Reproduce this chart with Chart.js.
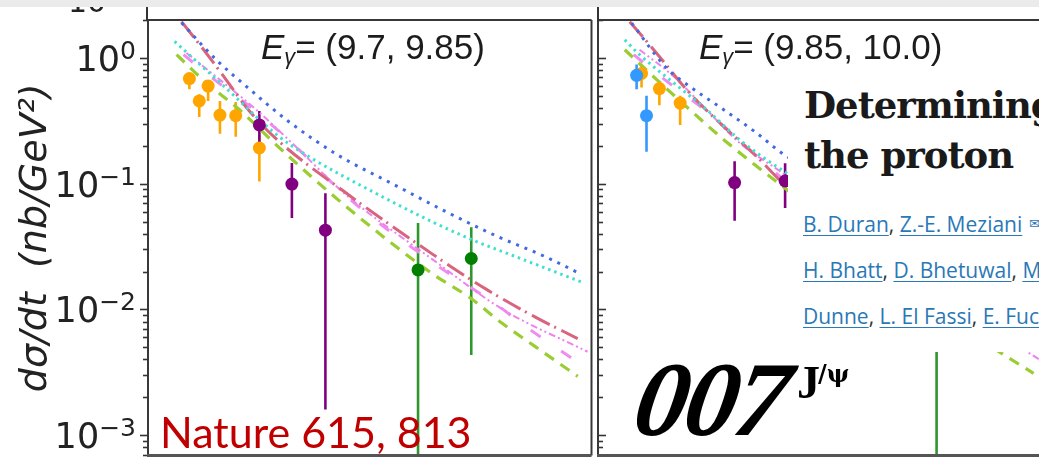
<!DOCTYPE html>
<html>
<head>
<meta charset="utf-8">
<script src="https://cdn.jsdelivr.net/npm/chart.js@4.4.1/dist/chart.umd.min.js"></script>
<style>
  html, body { margin: 0; padding: 0; background: #fff; }
  body { position: relative; width: 1039px; height: 462px; overflow: hidden; }
  canvas { position: absolute; top: 0; }
  #cL { left: 0; }
  #cR { left: 590px; }
  .abs { position: absolute; white-space: nowrap; }
  #band { left: 0; top: 0; width: 1039px; height: 7px; background: #ebebeb; z-index: 5; }
  #cut10 { left: 68px; top: -13px; font: 30px "DejaVu Sans"; line-height: 30px; color: #222; z-index: 4; }
  .vline { position: absolute; top: 7px; width: 2px; height: 14px; background: #333; }
  .etitle { top: 29px; font: 35px "Liberation Sans"; line-height: 35px; color: #1c1c1c; z-index: 4; }
  .etitle i { font-style: italic; }
  .etitle sub { font-size: 0.62em; font-style: italic; vertical-align: -0.22em; }
  #nature { left: 160px; top: 410px; font: 43px "Lato"; line-height: 43px; color: #c00000; z-index: 4; }
  #paper { position: absolute; left: 788px; top: 70px; width: 260px; height: 282px; background: #fff; z-index: 3; }
  .ptitle { left: 16px; font: bold 37px "DejaVu Serif"; line-height: 37px; color: #1a1a1a; letter-spacing: -1px; }
  .auth { left: 15px; font: 21px "Open Sans"; line-height: 21px; color: #333; }
  .auth a { color: #2a78b6; text-decoration: underline; text-decoration-thickness: 1px; text-underline-offset: 3px; }
  #env { left: 241px; top: 146px; font: 13px "DejaVu Sans"; color: #2a78b6; }
  #logo { left: 627px; top: 347px; font: bold italic 106px "Liberation Serif"; line-height: 106px; color: #000; letter-spacing: -3px; transform: skewX(-10deg); transform-origin: 0 100%; z-index: 4; }
  #logoJ { left: 797px; top: 360px; font: bold 46px "Liberation Serif"; line-height: 46px; color: #000; z-index: 4; }
  #logoPsi { left: 818px; top: 362px; font: bold 24px "DejaVu Serif"; line-height: 24px; color: #000; z-index: 4; }
</style>
</head>
<body>
<canvas id="cL" width="598" height="462"></canvas>
<canvas id="cR" width="460" height="462"></canvas>

<div id="cut10" class="abs">10</div>
<div id="band" class="abs"></div>
<div class="vline" style="left:146px"></div>
<div class="vline" style="left:597px"></div>

<div class="abs etitle" style="left:261px"><i>E</i><sub>γ</sub>= (9.7, 9.85)</div>
<div class="abs etitle" style="left:699px"><i>E</i><sub>γ</sub>= (9.85, 10.0)</div>

<div id="paper">
  <div class="abs ptitle" style="top:17px">Determining</div>
  <div class="abs ptitle" style="top:67px">the proton</div>
  <div class="abs auth" style="top:144px"><a>B. Duran</a>, <a>Z.-E. Meziani</a></div>
  <div id="env" class="abs">✉</div>
  <div class="abs auth" style="top:190px"><a>H. Bhatt</a>, <a>D. Bhetuwal</a>, <a>M</a></div>
  <div class="abs auth" style="top:236px"><a>Dunne</a>, <a>L. El Fassi</a>, <a>E. Fuc</a></div>
</div>

<div id="nature" class="abs">Nature 615, 813</div>
<div id="logo" class="abs">007</div>
<div id="logoJ" class="abs">J</div>
<div id="logoPsi" class="abs">/ψ</div>

<script>
// ---- axis settings: -t in GeV^2, dσ/dt in nb/GeV^2 (log) ----
const tRange = [0, 4.5];
const sigmaRange = [6.9e-4, 2.0];
const yTickValues = [1, 0.1, 0.01, 0.001];
const yTickExponents = ['0', '\u22121', '\u22122', '\u22123'];
const yTitle = 'd\u03c3/dt  (nb/GeV\u00b2)';

// ---- E_gamma = (9.7, 9.85) : measured points ----
const orangeL_t  = [0.42, 0.52, 0.61, 0.73, 0.89, 1.13];
const orangeL_y  = [0.684, 0.455, 0.597, 0.351, 0.347, 0.192];
const orangeL_lo = [0.563, 0.339, 0.455, 0.249, 0.236, 0.104];
const orangeL_hi = [0.739, 0.514, 0.654, 0.455, 0.445, 0.250];

const purpleL_t  = [1.13, 1.46, 1.80];
const purpleL_y  = [0.293, 0.0993, 0.0427];
const purpleL_lo = [0.193, 0.0533, 0.0016];
const purpleL_hi = [0.378, 0.146, 0.0839];

const greenL_t  = [2.74, 3.28];
const greenL_y  = [0.0206, 0.0254];
const greenL_lo = [0.0001, 0.00434];
const greenL_hi = [0.0487, 0.0451];

// ---- E_gamma = (9.7, 9.85) : model curves ----
const blueL_t = [0.34, 0.69, 1.02, 1.42, 1.92, 2.53, 3.03, 3.53, 4.03, 4.38];
const blueL_y = [1.90, 0.970, 0.573, 0.315, 0.170, 0.0952, 0.0595, 0.0385, 0.0263, 0.0193];
const cyanL_t = [0.27, 0.45, 0.75, 1.32, 1.65, 2.33, 2.90, 3.30, 3.73, 4.41];
const cyanL_y = [1.35, 1.005, 0.616, 0.240, 0.161, 0.0823, 0.0491, 0.0355, 0.0263, 0.0164];
const redL_t  = [0.34, 0.59, 0.79, 1.02, 1.32, 1.99, 2.89, 3.43, 3.93, 4.36];
const redL_y  = [1.94, 1.094, 0.675, 0.385, 0.220, 0.0865, 0.0274, 0.0145, 0.00869, 0.00587];
const violetL_t = [0.39, 0.75, 1.09, 1.52, 1.99, 2.89, 3.60, 4.46];
const violetL_y = [1.094, 0.650, 0.392, 0.190, 0.0839, 0.0249, 0.0100, 0.00461];
const pinkL_t = [0.36, 0.67, 1.09, 1.52, 1.99, 2.89, 3.53, 3.81, 4.13, 4.45];
const pinkL_y = [1.06, 0.675, 0.378, 0.190, 0.0823, 0.0236, 0.0110, 0.00752, 0.00505, 0.00340];
const limeL_t = [0.29, 0.59, 0.92, 1.32, 1.99, 2.89, 3.26, 3.60, 3.93, 4.36];
const limeL_y = [1.06, 0.636, 0.392, 0.197, 0.0678, 0.0191, 0.0125, 0.00770, 0.00506, 0.00294];

// ---- E_gamma = (9.85, 10.0) : measured points ----
const blueR_pts_t  = [0.39, 0.49];
const blueR_pts_y  = [0.726, 0.347];
const blueR_pts_lo = [0.563, 0.179];
const blueR_pts_hi = [0.885, 0.499];

const orangeR_t  = [0.44, 0.62, 0.83];
const orangeR_y  = [0.752, 0.570, 0.437];
const orangeR_lo = [0.581, 0.421, 0.293];
const orangeR_hi = [0.869, 0.654, 0.499];

const purpleR_t  = [1.38, 1.89];
const purpleR_y  = [0.102, 0.105];
const purpleR_lo = [0.0508, 0.0639];
const purpleR_hi = [0.151, 0.145];

const greenR_t  = [3.42];
const greenR_y  = [0.030];
const greenR_lo = [0.0001];
const greenR_hi = [0.060];

// ---- E_gamma = (9.85, 10.0) : model curves ----
const blueR_t = [0.34, 0.69, 0.92, 1.26, 1.59, 1.89, 2.60, 3.26, 4.06, 4.40];
const blueR_y = [1.89, 0.834, 0.598, 0.392, 0.257, 0.168, 0.087, 0.045, 0.024, 0.019];
const cyanR_t = [0.27, 0.42, 0.76, 1.09, 1.42, 1.89, 2.60, 3.30, 4.06, 4.41];
const cyanR_y = [1.39, 1.06, 0.636, 0.392, 0.227, 0.124, 0.062, 0.033, 0.021, 0.016];
const redR_t  = [0.32, 0.59, 0.92, 1.26, 1.59, 1.89, 2.60, 3.43, 4.36];
const redR_y  = [1.94, 1.094, 0.530, 0.289, 0.168, 0.0975, 0.040, 0.0145, 0.0059];
const violetR_t = [0.42, 0.76, 1.09, 1.42, 1.89, 2.89, 3.60, 4.36, 4.50];
const violetR_y = [1.16, 0.716, 0.392, 0.214, 0.117, 0.025, 0.010, 0.00447, 0.0038];
const pinkR_t = [0.36, 0.67, 1.09, 1.52, 1.89, 2.89, 3.81];
const pinkR_y = [1.06, 0.675, 0.378, 0.190, 0.105, 0.0236, 0.0075];
const limeR_t = [0.27, 0.59, 0.92, 1.26, 1.59, 1.89, 2.89, 4.00, 4.40];
const limeR_y = [1.16, 0.675, 0.392, 0.227, 0.140, 0.0918, 0.020, 0.0049, 0.0031];

// ---- styles ----
const COL = {
  orange: '#ffa500', purple: '#800080', green: '#007f00', lightblue: '#3399ff',
  blue: '#4169e1', cyan: '#40e0d0', red: '#d8647e', violet: '#ee82ee', pink: '#f08cf0', lime: '#9acd32'
};

const zip = (xs, ys) => xs.map((x, i) => ({ x, y: ys[i] }));

function pointSet(label, t, y, lo, hi, color, barColor) {
  return {
    label, type: 'scatter', data: zip(t, y), errLo: lo, errHi: hi, errColor: barColor || color,
    backgroundColor: color, borderColor: color, borderWidth: 0, pointRadius: 6.5, pointHoverRadius: 6.5,
    showLine: false, order: 0, clip: 0
  };
}
function curveSet(label, t, y, color, width, dash) {
  return {
    label, type: 'line', data: zip(t, y), borderColor: color, backgroundColor: color,
    borderWidth: width, borderDash: dash, pointRadius: 0, fill: false,
    cubicInterpolationMode: 'monotone', order: 1, clip: 0
  };
}

// vertical error bars, drawn under the markers
const errorBars = {
  id: 'errorBars',
  beforeDatasetsDraw(chart) {
    const { ctx, chartArea: a, scales: { x, y } } = chart;
    ctx.save();
    ctx.beginPath();
    ctx.rect(a.left, a.top, a.right - a.left, a.bottom - a.top);
    ctx.clip();
    ctx.lineWidth = 2.6;
    chart.data.datasets.forEach(ds => {
      if (!ds.errLo) return;
      ctx.strokeStyle = ds.errColor;
      ds.data.forEach((p, i) => {
        const px = x.getPixelForValue(p.x);
        ctx.beginPath();
        ctx.moveTo(px, y.getPixelForValue(ds.errLo[i]));
        ctx.lineTo(px, y.getPixelForValue(ds.errHi[i]));
        ctx.stroke();
      });
    });
    ctx.restore();
  }
};

// box around the plotting area
const frame = {
  id: 'frame',
  afterDraw(chart, args, opts) {
    const { ctx, chartArea: a } = chart;
    const ext = opts.openRight ? 20 : 0;
    ctx.save();
    ctx.strokeStyle = '#383838';
    ctx.lineWidth = 2;
    ctx.beginPath();
    ctx.moveTo(a.left, a.top); ctx.lineTo(a.right + ext, a.top);
    ctx.moveTo(a.left, a.top); ctx.lineTo(a.left, a.bottom);
    if (!opts.openRight) { ctx.moveTo(a.right, a.top); ctx.lineTo(a.right, a.bottom); }
    ctx.stroke();
    ctx.strokeStyle = '#555';
    ctx.lineWidth = 3;
    ctx.beginPath();
    ctx.moveTo(a.left - 1, a.bottom); ctx.lineTo(a.right + ext, a.bottom);
    ctx.stroke();
    ctx.restore();
  }
};

// log ticks (major + minor) and 10^n labels
const logTicks = {
  id: 'logTicks',
  afterDraw(chart, args, opts) {
    const { ctx, chartArea: a, scales: { y } } = chart;
    const dir = opts.dir;
    ctx.save();
    ctx.strokeStyle = '#333';
    ctx.lineWidth = 1.6;
    for (let d = -4; d <= 0; d++) {
      for (let k = 1; k <= 9; k++) {
        const v = k * Math.pow(10, d);
        if (v < y.min || v > y.max) continue;
        const py = Math.round(y.getPixelForValue(v)) + 0.5;
        const len = k === 1 ? 8 : 5;
        ctx.beginPath();
        ctx.moveTo(a.left, py);
        ctx.lineTo(a.left + dir * len, py);
        ctx.stroke();
      }
    }
    if (opts.labels) {
      ctx.fillStyle = '#222';
      ctx.textBaseline = 'alphabetic';
      yTickValues.forEach((v, i) => {
        const py = y.getPixelForValue(v);
        const base = py + 13;
        ctx.font = '25px "DejaVu Sans"';
        const ew = ctx.measureText(yTickExponents[i]).width;
        ctx.font = '35px "DejaVu Sans"';
        const mw = ctx.measureText('10').width;
        const right = a.left - 12;
        ctx.fillText('10', right - ew - mw, base);
        ctx.font = '25px "DejaVu Sans"';
        ctx.fillText(yTickExponents[i], right - ew, base - 12);
      });
    }
    ctx.restore();
  }
};

function panel(canvasId, datasets, leftWidth, padRight, showTitle, tickDir, openRight) {
  return new Chart(document.getElementById(canvasId), {
    data: { datasets },
    plugins: [errorBars, logTicks, frame],
    options: {
      responsive: false, animation: false, devicePixelRatio: 1,
      layout: { padding: { top: 20, bottom: 2, left: 0, right: padRight } },
      plugins: {
        legend: { display: false }, tooltip: { enabled: false },
        logTicks: { dir: tickDir, labels: showTitle },
        frame: { openRight }
      },
      scales: {
        x: { type: 'linear', min: tRange[0], max: tRange[1], display: false },
        y: {
          type: 'logarithmic', min: sigmaRange[0], max: sigmaRange[1],
          grid: { display: false }, border: { display: false },
          ticks: { display: false },
          title: {
            display: showTitle, text: yTitle, color: '#222',
            font: { family: 'DejaVu Sans', size: 38, style: 'italic' },
            padding: { top: 13, bottom: 0 }
          },
          afterFit(scale) { scale.width = leftWidth; }
        }
      }
    }
  });
}

panel('cL', [
  curveSet('blue dotted', blueL_t, blueL_y, COL.blue, 3, [3, 6]),
  curveSet('cyan dotted', cyanL_t, cyanL_y, COL.cyan, 3, [2.5, 4]),
  curveSet('red dash-dot', redL_t, redL_y, COL.red, 3, [20, 5, 2, 6]),
  curveSet('violet dash-dot-dot', violetL_t, violetL_y, COL.violet, 2, [7, 3, 2, 3, 2, 3]),
  curveSet('pink dashed', pinkL_t, pinkL_y, COL.pink, 3, [12, 25]),
  curveSet('lime dashed', limeL_t, limeL_y, COL.lime, 3.2, [11, 8]),
  pointSet('orange', orangeL_t, orangeL_y, orangeL_lo, orangeL_hi, COL.orange),
  pointSet('purple', purpleL_t, purpleL_y, purpleL_lo, purpleL_hi, COL.purple),
  pointSet('green', greenL_t, greenL_y, greenL_lo, greenL_hi, COL.green, '#2e962e')
], 148, 1, true, -1, false);

panel('cR', [
  curveSet('blue dotted', blueR_t, blueR_y, COL.blue, 3, [3, 6]),
  curveSet('cyan dotted', cyanR_t, cyanR_y, COL.cyan, 3, [2.5, 4]),
  curveSet('red dash-dot', redR_t, redR_y, COL.red, 3, [20, 5, 2, 6]),
  curveSet('violet dash-dot-dot', violetR_t, violetR_y, COL.violet, 2, [7, 3, 2, 3, 2, 3]),
  curveSet('pink dashed', pinkR_t, pinkR_y, COL.pink, 3, [12, 25]),
  curveSet('lime dashed', limeR_t, limeR_y, COL.lime, 3.2, [11, 8]),
  pointSet('light blue', blueR_pts_t, blueR_pts_y, blueR_pts_lo, blueR_pts_hi, COL.lightblue),
  pointSet('orange', orangeR_t, orangeR_y, orangeR_lo, orangeR_hi, COL.orange),
  pointSet('purple', purpleR_t, purpleR_y, purpleR_lo, purpleR_hi, COL.purple),
  pointSet('green', greenR_t, greenR_y, greenR_lo, greenR_hi, COL.green, '#2e962e')
], 8, 3, false, 1, true);
</script>
</body>
</html>
